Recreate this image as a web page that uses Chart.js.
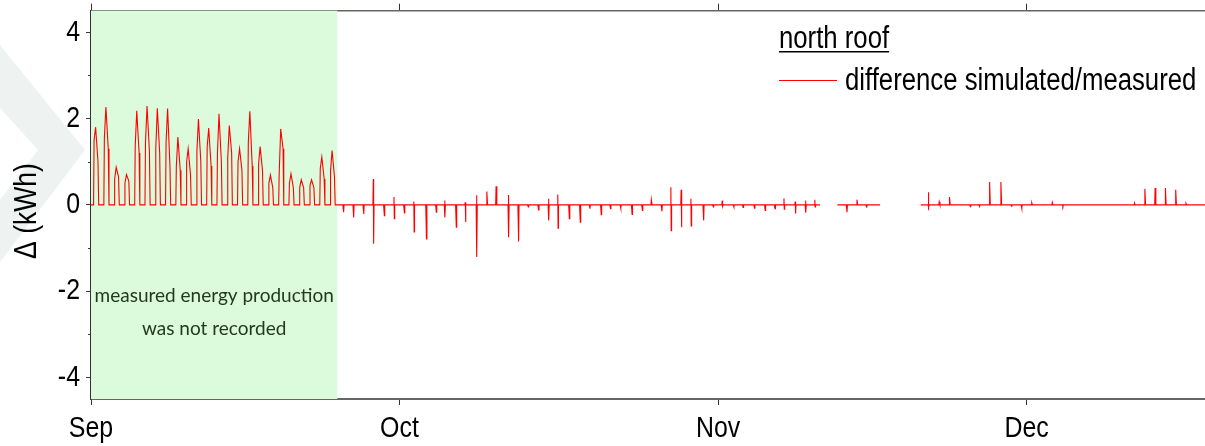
<!DOCTYPE html>
<html>
<head>
<meta charset="utf-8">
<script src="https://cdn.jsdelivr.net/npm/chart.js@4.4.1/dist/chart.umd.min.js"></script>
<style>
  html, body { margin: 0; padding: 0; background: #fff; overflow: hidden; }
  #wrap { width: 1205px; height: 446px; }
</style>
</head>
<body>
<div id="wrap"><canvas id="chart" width="1205" height="446"></canvas></div>
<script>
// ------------------------------------------------------------
// north roof: difference simulated / measured (hourly), Sep - Dec
// x = days since Sep 1
// ------------------------------------------------------------

const monthTicks = [0, 30, 61, 91];
const monthLabels = ['Sep', 'Oct', 'Nov', 'Dec'];
const yTicks = [-4, -2, 0, 2, 4];
const yMinorTicks = [-3, -1, 1, 3];
const X_MAX = 108.35;

// Sep 1 .. Sep 24: measured production missing -> difference = full simulated day
const sepPeak = [1.80, 2.27, 0.87, 0.70, 2.18, 2.29, 2.24, 2.23, 1.57, 1.30, 1.99, 1.78,
                 2.11, 1.84, 1.30, 2.17, 1.35, 0.69, 1.76, 0.72, 0.58, 0.58, 1.11, 1.26];
const sepAm   = [1.50, 1.55, 0.60, 0.50, 1.35, 1.45, 1.30, 1.45, 0.90, 1.00, 1.25, 1.35,
                 1.20, 1.10, 1.00, 1.45, 0.95, 0.50, 0.70, 0.50, 0.40, 0.45, 0.85, 0.80];
const sepPm   = [1.00, 1.30, 0.65, 0.55, 1.20, 1.25, 1.20, 0.90, 0.80, 0.70, 1.00, 0.90,
                 1.00, 1.20, 0.80, 0.90, 0.80, 0.40, 1.30, 0.40, 0.40, 0.40, 0.60, 0.65];
const noRecordEnd = 23.96;

// from Sep 25 on: spikes around a ~0 baseline (day, upper excursion, lower excursion)
const spikeDay  = [24.54, 25.52, 26.5, 27.46, 28.5, 29.47, 30.45, 31.4, 32.6, 33.56, 34.4, 35.5,
                   36.4, 37.5, 38.5, 39.4, 40.6, 41.56, 42.5, 43.5, 44.5, 45.4, 46.5, 47.56,
                   48.5, 49.6, 50.5, 51.5, 52.6, 53.6, 54.5, 55.5, 56.4, 57.4, 58.35, 59.56,
                   60.5, 61.4, 62.5, 63.4, 64.5, 65.55, 66.5, 67.4, 68.5, 69.5, 70.4,
                   73.5, 74.5, 75.4,
                   81.45, 82.5, 83.5, 85.5, 86.4, 87.4, 88.5, 89.5, 90.5, 91.5, 93.5, 94.5,
                   101.5, 102.5, 103.5, 104.5, 105.5, 106.5];
const spikeHigh = [0, 0, 0, 0.60, 0, 0.18, 0, 0.08, 0, 0, 0.10, 0,
                   0.06, 0.22, 0.31, 0.43, 0.23, 0, 0, 0, 0.14, 0.24, 0, 0,
                   0, 0, 0, 0, 0, 0, 0.12, 0, 0.41, 0.35, 0.14, 0,
                   0, 0.10, 0, 0, 0, 0, 0, 0.15, 0.08, 0.10, 0.12,
                   0, 0.12, 0,
                   0.29, 0.07, 0.18, 0, 0, 0.53, 0.53, 0, 0, 0.05, 0.06, 0,
                   0.04, 0.37, 0.39, 0.39, 0.35, 0.04];
const spikeLow  = [-0.17, -0.29, -0.21, -0.90, -0.25, -0.32, -0.19, -0.63, -0.79, -0.17, -0.29, -0.52,
                   -0.40, -1.21, 0, 0, -0.75, -0.85, -0.05, -0.12, -0.36, -0.54, -0.32, -0.40,
                   -0.09, -0.23, -0.09, -0.08, -0.22, -0.13, 0, -0.15, -0.60, -0.52, -0.49, -0.36,
                   -0.05, -0.03, -0.05, -0.06, -0.08, -0.13, -0.09, -0.10, -0.20, -0.18, -0.05,
                   -0.17, 0, -0.05,
                   -0.05, 0, 0, -0.04, -0.04, 0, 0, -0.03, -0.08, 0, 0, -0.04,
                   0, 0, 0, 0, 0, 0];
// periods without any data
const gapStart = [70.9, 76.75];
const gapEnd   = [72.6, 80.7];
const dataEnd  = 108.6;

// the original uses a condensed Arial-like face; squeeze Liberation Sans horizontally
const SANS = '"Liberation Sans", Arial, sans-serif';
const NARROW = 0.83;

// ---- build the point list --------------------------------------------------
const points = [{x: 0, y: 0}];
sepPeak.forEach((p, d) => {
  points.push({x: d + 0.25, y: 0});
  points.push({x: d + 0.30, y: sepAm[d]});
  points.push({x: d + 0.45, y: p});
  points.push({x: d + 0.68, y: sepPm[d]});
  points.push({x: d + 0.75, y: 0});
});
points.push({x: noRecordEnd, y: 0});

const events = spikeDay.map((d, i) => ({d, hi: spikeHigh[i], lo: spikeLow[i]}));
gapStart.forEach((g, i) => events.push({gap: true, d: g, end: gapEnd[i]}));
events.sort((a, b) => a.d - b.d);
events.forEach(e => {
  if (e.gap) {
    points.push({x: e.d, y: 0});
    points.push({x: (e.d + e.end) / 2, y: null});
    points.push({x: e.end, y: 0});
    return;
  }
  points.push({x: e.d - 0.04, y: 0});
  if (e.hi) points.push({x: e.d, y: e.hi});
  if (e.lo) points.push({x: e.d + 0.03, y: e.lo});
  points.push({x: e.d + 0.07, y: 0});
});
points.push({x: dataEnd, y: 0});

// condensed text helper
function narrowText(ctx, text, x, y, size, align, baseline, rot) {
  ctx.save();
  ctx.font = size + 'px ' + SANS;
  ctx.textAlign = align;
  ctx.textBaseline = baseline;
  ctx.translate(x, y);
  if (rot) ctx.rotate(rot);
  ctx.scale(NARROW, 1);
  ctx.fillText(text, 0, 0);
  ctx.restore();
}

// ---- extras drawn on the canvas -------------------------------------------
const decor = {
  id: 'decor',
  beforeDraw(chart) {
    const {ctx} = chart;
    ctx.save();
    ctx.fillStyle = '#fff';
    ctx.fillRect(0, 0, chart.width, chart.height);
    // faint watermark chevron at the left edge
    ctx.fillStyle = '#eef3f1';
    ctx.beginPath();
    ctx.moveTo(0, 45); ctx.lineTo(85, 150); ctx.lineTo(0, 262);
    ctx.lineTo(0, 200); ctx.lineTo(38, 150); ctx.lineTo(0, 108);
    ctx.closePath();
    ctx.fill();
    ctx.restore();
  },
  beforeDatasetsDraw(chart) {
    const {ctx, chartArea: a, scales: {x}} = chart;
    ctx.save();
    ctx.fillStyle = '#dcfadc';
    const x0 = x.getPixelForValue(0), x1 = x.getPixelForValue(noRecordEnd);
    ctx.fillRect(x0, a.top, x1 - x0, a.bottom - a.top);
    ctx.restore();
  },
  afterDraw(chart) {
    const {ctx, scales: {x, y}} = chart;
    ctx.save();
    // minor y ticks
    ctx.strokeStyle = '#333';
    ctx.lineWidth = 1;
    yMinorTicks.forEach(v => {
      const py = Math.round(y.getPixelForValue(v)) + 0.5;
      ctx.beginPath(); ctx.moveTo(y.right - 3, py); ctx.lineTo(y.right, py); ctx.stroke();
    });
    ctx.fillStyle = '#000';
    // tick labels
    yTicks.forEach(v => narrowText(ctx, String(v), 80, y.getPixelForValue(v), 30, 'right', 'middle'));
    monthTicks.forEach((v, i) => narrowText(ctx, monthLabels[i], x.getPixelForValue(v), 437, 30, 'center', 'alphabetic'));
    // axis title
    narrowText(ctx, 'Δ (kWh)', 27, 211, 32, 'center', 'middle', -Math.PI / 2);
    // note inside the green area
    ctx.fillStyle = '#223a22';
    ctx.font = '19px Lato, "Open Sans", sans-serif';
    ctx.textAlign = 'center';
    ctx.textBaseline = 'alphabetic';
    const cx = (x.getPixelForValue(0) + x.getPixelForValue(noRecordEnd)) / 2;
    ctx.fillText('measured energy production', cx, 302);
    ctx.fillText('was not recorded', cx, 335);
    // legend
    ctx.fillStyle = '#000';
    narrowText(ctx, 'north roof', 779, 48, 31, 'left', 'alphabetic');
    ctx.font = '31px ' + SANS;
    const w = ctx.measureText('north roof').width * NARROW;
    ctx.fillRect(779, 51, w, 1.5);
    narrowText(ctx, 'difference simulated/measured', 845, 90, 31, 'left', 'alphabetic');
    ctx.strokeStyle = '#ff0000';
    ctx.lineWidth = 1;
    ctx.beginPath(); ctx.moveTo(779, 80.5); ctx.lineTo(837, 80.5); ctx.stroke();
    ctx.restore();
  }
};

const monthTickBuilder = scale => { scale.ticks = monthTicks.map(v => ({value: v})); };

new Chart(document.getElementById('chart'), {
  type: 'line',
  data: {
    datasets: [{
      data: points,
      borderColor: '#ff0000',
      borderWidth: 1.1,
      pointRadius: 0,
      tension: 0,
      spanGaps: false,
      fill: false
    }]
  },
  options: {
    responsive: false,
    animation: false,
    events: [],
    layout: { padding: 0 },
    plugins: { legend: { display: false }, tooltip: { enabled: false } },
    scales: {
      x: {
        type: 'linear', position: 'bottom', min: 0, max: X_MAX,
        afterBuildTicks: monthTickBuilder,
        afterFit: s => { s.height = 47; },
        grid: { drawOnChartArea: false, drawTicks: true, tickLength: 6, color: '#333', lineWidth: 1 },
        border: { display: true, color: '#666', width: 2 },
        ticks: { display: false }
      },
      x2: {
        type: 'linear', position: 'top', min: 0, max: X_MAX,
        afterBuildTicks: monthTickBuilder,
        afterFit: s => { s.height = 10.7; },
        grid: { drawOnChartArea: false, drawTicks: true, tickLength: 7, color: '#333', lineWidth: 1 },
        border: { display: true, color: '#666', width: 1.5 },
        ticks: { display: false }
      },
      y: {
        min: -4.5, max: 4.5,
        afterBuildTicks: s => { s.ticks = yTicks.map(v => ({value: v})); },
        afterFit: s => { s.width = 91; },
        grid: { drawOnChartArea: false, drawTicks: true, tickLength: 5, color: '#333', lineWidth: 1 },
        border: { display: true, color: '#333', width: 1.5 },
        ticks: { display: false }
      }
    }
  },
  plugins: [decor]
});
</script>
</body>
</html>
